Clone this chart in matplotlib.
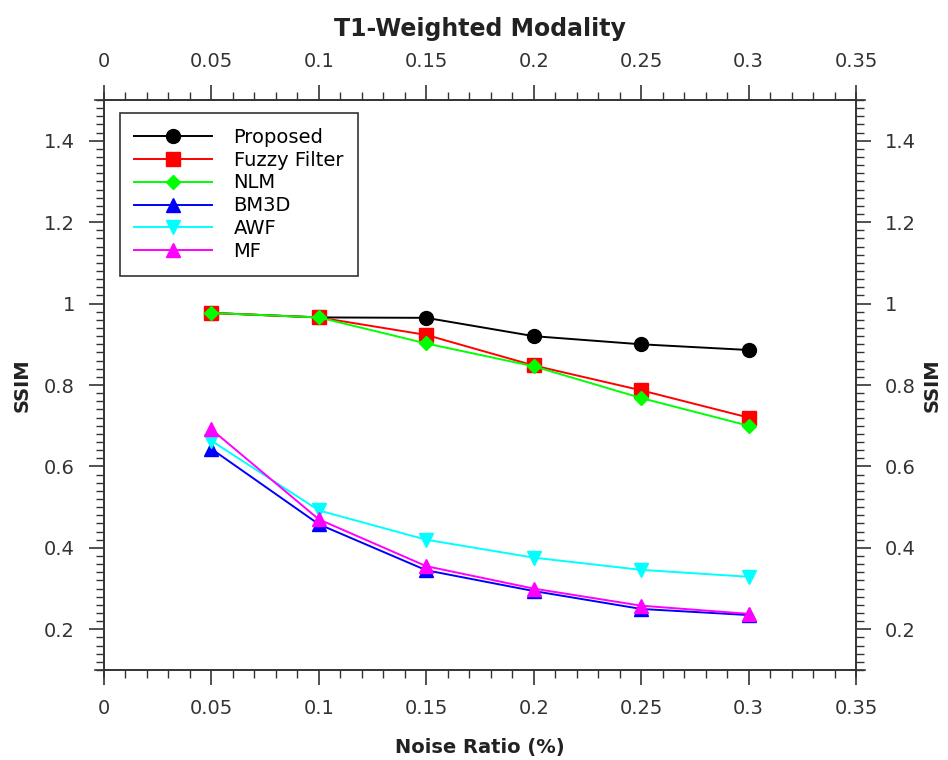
import numpy as np
import matplotlib
matplotlib.use('Agg')
import matplotlib.pyplot as plt
from matplotlib.ticker import MultipleLocator

# data
noise = [0.05, 0.10, 0.15, 0.20, 0.25, 0.30]
proposed = [0.977, 0.966, 0.965, 0.920, 0.900, 0.886]
fuzzy = [0.977, 0.966, 0.923, 0.848, 0.787, 0.720]
nlm = [0.977, 0.966, 0.902, 0.846, 0.768, 0.700]
bm3d = [0.643, 0.458, 0.345, 0.294, 0.250, 0.235]
awf = [0.663, 0.492, 0.420, 0.376, 0.346, 0.329]
mf = [0.691, 0.470, 0.355, 0.300, 0.258, 0.238]

names = ['Proposed', 'Fuzzy Filter', 'NLM', 'BM3D', 'AWF', 'MF']
series = [proposed, fuzzy, nlm, bm3d, awf, mf]
colors = ['k', '#ff0000', '#00ff00', '#0000ff', '#00ffff', '#ff00ff']
markers = ['o', 's', 'D', '^', 'v', '^']
msizes = [10, 10, 7, 9.5, 9.5, 9.5]

font_size = 14
plt.rcParams['font.family'] = 'DejaVu Sans'
plt.rcParams['font.size'] = font_size

fig = plt.figure(figsize=(9.48, 7.6), dpi=100)
ax = fig.add_axes([0.1097, 0.1184, 0.7933, 0.7500])

for y, lab, c, m, ms in zip(series, names, colors, markers, msizes):
    ax.plot(noise, y, color=c, marker=m, markersize=ms, linewidth=1.4,
            markeredgecolor=c, markerfacecolor=c, label=lab)

ax.set_xlim(0, 0.35)
ax.set_ylim(0.1, 1.5)
ax.xaxis.set_minor_locator(MultipleLocator(0.01))
ax.yaxis.set_minor_locator(MultipleLocator(0.02))
ax.set_yticks(np.arange(0.2, 1.41, 0.2))
ax.set_xticks(np.arange(0, 0.351, 0.05))
ax.set_xticklabels(['0', '0.05', '0.1', '0.15', '0.2', '0.25', '0.3', '0.35'])
ax.set_yticklabels(['0.2', '0.4', '0.6', '0.8', '1', '1.2', '1.4'])

ax.tick_params(which='both', direction='out', top=True, right=True,
               labeltop=True, labelright=True, colors='#333333', labelcolor='#333333')
ax.tick_params(which='major', length=11, width=1.2, pad=10, labelsize=font_size)
ax.tick_params(which='minor', length=6, width=1.0)
for s in ax.spines.values():
    s.set_linewidth(1.2)
    s.set_color('#333333')

# small overhang at the corners
for xx in [0, 1]:
    ax.plot([xx, xx], [-0.012, 1.012], transform=ax.transAxes, clip_on=False,
            color='#333333', lw=1.2)
for yy in [0, 1]:
    ax.plot([-0.012, 1.012], [yy, yy], transform=ax.transAxes, clip_on=False,
            color='#333333', lw=1.2)

ax.set_xlabel('Noise Ratio (%)', fontweight='bold', fontsize=14, color='#222222', labelpad=14)
ax.set_ylabel('SSIM', fontweight='bold', fontsize=14, color='#222222', labelpad=9)
ax.text(1.101, 0.5, 'SSIM', transform=ax.transAxes, rotation=90, va='center', ha='center',
        fontweight='bold', fontsize=14, color='#222222')
ax.set_title('T1-Weighted Modality', fontweight='bold', fontsize=17, color='#222222', pad=46)

leg = ax.legend(loc='upper left', bbox_to_anchor=(0.021, 0.977), fontsize=14,
                handlelength=4.0, handletextpad=1.1, borderpad=0.75, labelspacing=0.2,
                borderaxespad=0, fancybox=False, framealpha=1, edgecolor='#333333')
leg.get_frame().set_linewidth(1.2)

plt.savefig('out.png', dpi=100)
